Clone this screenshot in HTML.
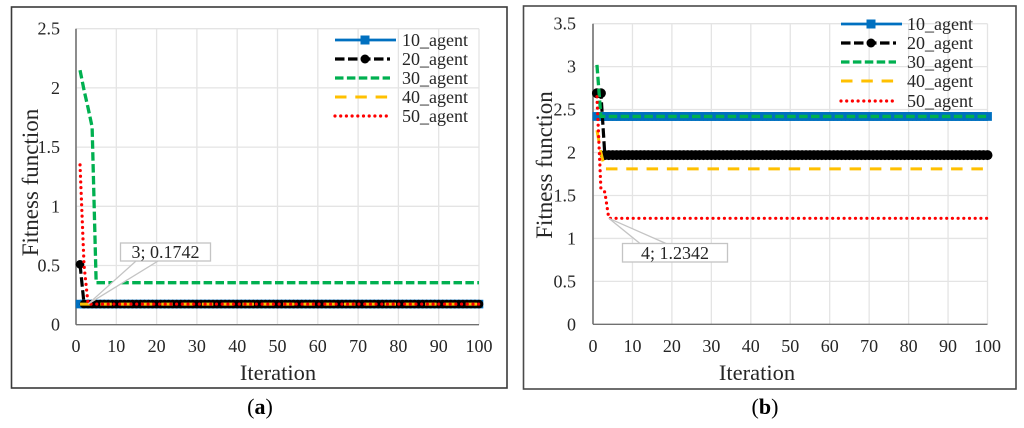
<!DOCTYPE html>
<html lang="en">
<head>
<meta charset="utf-8">
<title>Fitness function vs iteration</title>
<style>
html,body{margin:0;padding:0;background:#fff;width:1024px;height:428px;overflow:hidden}
svg{display:block;position:absolute;left:0;top:0;filter:blur(0.35px)}
text{font-family:"Liberation Serif",serif;fill:#262626}
.tick{font-size:18px}
.xtitle{font-size:22.5px}
.ytitle{font-size:23px}
.leg{font-size:18px}
.cap{font-size:22px;fill:#000}
</style>
</head>
<body>
<svg id="fig" width="1024" height="428" viewBox="0 0 1024 428">
  <g>
    <rect x="11.5" y="7" width="495.5" height="381" fill="#fff" stroke="#3a3a3a" stroke-width="1.6"/>
    <g id="axes-a"></g>
    <g id="marks-a"></g>
    <g id="label-a"></g>
    <text class="xtitle" x="278" y="380" text-anchor="middle">Iteration</text>
    <text class="ytitle" transform="translate(38 182.5) rotate(-90)" text-anchor="middle">Fitness function</text>
    <g id="legend-a">
      <text class="leg" x="402" y="46">10_agent</text>
      <text class="leg" x="402" y="65">20_agent</text>
      <text class="leg" x="402" y="84">30_agent</text>
      <text class="leg" x="402" y="103">40_agent</text>
      <text class="leg" x="402" y="122">50_agent</text>
    </g>
    <text class="cap" x="260" y="414" text-anchor="middle">(<tspan font-weight="bold">a</tspan>)</text>
  </g>
  <g>
    <rect x="523.5" y="6" width="492.5" height="383" fill="#fff" stroke="#4a4a4a" stroke-width="1.6"/>
    <g id="axes-b"></g>
    <g id="marks-b"></g>
    <g id="label-b"></g>
    <text class="xtitle" x="757" y="380" text-anchor="middle">Iteration</text>
    <text class="ytitle" transform="translate(552 165) rotate(-90)" text-anchor="middle">Fitness function</text>
    <g id="legend-b">
      <text class="leg" x="907" y="30">10_agent</text>
      <text class="leg" x="907" y="49">20_agent</text>
      <text class="leg" x="907" y="68">30_agent</text>
      <text class="leg" x="907" y="87">40_agent</text>
      <text class="leg" x="907" y="107">50_agent</text>
    </g>
    <text class="cap" x="765" y="414" text-anchor="middle">(<tspan font-weight="bold">b</tspan>)</text>
  </g>
</svg>
<script>
var xTicks = [0,10,20,30,40,50,60,70,80,90,100];
var yTicksA = [0,0.5,1,1.5,2,2.5];
var yTicksB = [0,0.5,1,1.5,2,2.5,3,3.5];
var seriesNames = ['10_agent','20_agent','30_agent','40_agent','50_agent'];

var a10 = [
0.1742,0.1742,0.1742,0.1742,0.1742,0.1742,0.1742,0.1742,0.1742,0.1742,
0.1742,0.1742,0.1742,0.1742,0.1742,0.1742,0.1742,0.1742,0.1742,0.1742,
0.1742,0.1742,0.1742,0.1742,0.1742,0.1742,0.1742,0.1742,0.1742,0.1742,
0.1742,0.1742,0.1742,0.1742,0.1742,0.1742,0.1742,0.1742,0.1742,0.1742,
0.1742,0.1742,0.1742,0.1742,0.1742,0.1742,0.1742,0.1742,0.1742,0.1742,
0.1742,0.1742,0.1742,0.1742,0.1742,0.1742,0.1742,0.1742,0.1742,0.1742,
0.1742,0.1742,0.1742,0.1742,0.1742,0.1742,0.1742,0.1742,0.1742,0.1742,
0.1742,0.1742,0.1742,0.1742,0.1742,0.1742,0.1742,0.1742,0.1742,0.1742,
0.1742,0.1742,0.1742,0.1742,0.1742,0.1742,0.1742,0.1742,0.1742,0.1742,
0.1742,0.1742,0.1742,0.1742,0.1742,0.1742,0.1742,0.1742,0.1742,0.1742];
var a20 = [
0.51,0.1742,0.1742,0.1742,0.1742,0.1742,0.1742,0.1742,0.1742,0.1742,
0.1742,0.1742,0.1742,0.1742,0.1742,0.1742,0.1742,0.1742,0.1742,0.1742,
0.1742,0.1742,0.1742,0.1742,0.1742,0.1742,0.1742,0.1742,0.1742,0.1742,
0.1742,0.1742,0.1742,0.1742,0.1742,0.1742,0.1742,0.1742,0.1742,0.1742,
0.1742,0.1742,0.1742,0.1742,0.1742,0.1742,0.1742,0.1742,0.1742,0.1742,
0.1742,0.1742,0.1742,0.1742,0.1742,0.1742,0.1742,0.1742,0.1742,0.1742,
0.1742,0.1742,0.1742,0.1742,0.1742,0.1742,0.1742,0.1742,0.1742,0.1742,
0.1742,0.1742,0.1742,0.1742,0.1742,0.1742,0.1742,0.1742,0.1742,0.1742,
0.1742,0.1742,0.1742,0.1742,0.1742,0.1742,0.1742,0.1742,0.1742,0.1742,
0.1742,0.1742,0.1742,0.1742,0.1742,0.1742,0.1742,0.1742,0.1742,0.1742];
var a30 = [
2.15,1.98,1.83,1.67,0.355,0.355,0.355,0.355,0.355,0.355,
0.355,0.355,0.355,0.355,0.355,0.355,0.355,0.355,0.355,0.355,
0.355,0.355,0.355,0.355,0.355,0.355,0.355,0.355,0.355,0.355,
0.355,0.355,0.355,0.355,0.355,0.355,0.355,0.355,0.355,0.355,
0.355,0.355,0.355,0.355,0.355,0.355,0.355,0.355,0.355,0.355,
0.355,0.355,0.355,0.355,0.355,0.355,0.355,0.355,0.355,0.355,
0.355,0.355,0.355,0.355,0.355,0.355,0.355,0.355,0.355,0.355,
0.355,0.355,0.355,0.355,0.355,0.355,0.355,0.355,0.355,0.355,
0.355,0.355,0.355,0.355,0.355,0.355,0.355,0.355,0.355,0.355,
0.355,0.355,0.355,0.355,0.355,0.355,0.355,0.355,0.355,0.355];
var a40 = [
0.1742,0.1742,0.1742,0.1742,0.1742,0.1742,0.1742,0.1742,0.1742,0.1742,
0.1742,0.1742,0.1742,0.1742,0.1742,0.1742,0.1742,0.1742,0.1742,0.1742,
0.1742,0.1742,0.1742,0.1742,0.1742,0.1742,0.1742,0.1742,0.1742,0.1742,
0.1742,0.1742,0.1742,0.1742,0.1742,0.1742,0.1742,0.1742,0.1742,0.1742,
0.1742,0.1742,0.1742,0.1742,0.1742,0.1742,0.1742,0.1742,0.1742,0.1742,
0.1742,0.1742,0.1742,0.1742,0.1742,0.1742,0.1742,0.1742,0.1742,0.1742,
0.1742,0.1742,0.1742,0.1742,0.1742,0.1742,0.1742,0.1742,0.1742,0.1742,
0.1742,0.1742,0.1742,0.1742,0.1742,0.1742,0.1742,0.1742,0.1742,0.1742,
0.1742,0.1742,0.1742,0.1742,0.1742,0.1742,0.1742,0.1742,0.1742,0.1742,
0.1742,0.1742,0.1742,0.1742,0.1742,0.1742,0.1742,0.1742,0.1742,0.1742];
var a50 = [
1.35,0.5,0.1742,0.1742,0.1742,0.1742,0.1742,0.1742,0.1742,0.1742,
0.1742,0.1742,0.1742,0.1742,0.1742,0.1742,0.1742,0.1742,0.1742,0.1742,
0.1742,0.1742,0.1742,0.1742,0.1742,0.1742,0.1742,0.1742,0.1742,0.1742,
0.1742,0.1742,0.1742,0.1742,0.1742,0.1742,0.1742,0.1742,0.1742,0.1742,
0.1742,0.1742,0.1742,0.1742,0.1742,0.1742,0.1742,0.1742,0.1742,0.1742,
0.1742,0.1742,0.1742,0.1742,0.1742,0.1742,0.1742,0.1742,0.1742,0.1742,
0.1742,0.1742,0.1742,0.1742,0.1742,0.1742,0.1742,0.1742,0.1742,0.1742,
0.1742,0.1742,0.1742,0.1742,0.1742,0.1742,0.1742,0.1742,0.1742,0.1742,
0.1742,0.1742,0.1742,0.1742,0.1742,0.1742,0.1742,0.1742,0.1742,0.1742,
0.1742,0.1742,0.1742,0.1742,0.1742,0.1742,0.1742,0.1742,0.1742,0.1742];

var b10 = [
2.42,2.42,2.42,2.42,2.42,2.42,2.42,2.42,2.42,2.42,
2.42,2.42,2.42,2.42,2.42,2.42,2.42,2.42,2.42,2.42,
2.42,2.42,2.42,2.42,2.42,2.42,2.42,2.42,2.42,2.42,
2.42,2.42,2.42,2.42,2.42,2.42,2.42,2.42,2.42,2.42,
2.42,2.42,2.42,2.42,2.42,2.42,2.42,2.42,2.42,2.42,
2.42,2.42,2.42,2.42,2.42,2.42,2.42,2.42,2.42,2.42,
2.42,2.42,2.42,2.42,2.42,2.42,2.42,2.42,2.42,2.42,
2.42,2.42,2.42,2.42,2.42,2.42,2.42,2.42,2.42,2.42,
2.42,2.42,2.42,2.42,2.42,2.42,2.42,2.42,2.42,2.42,
2.42,2.42,2.42,2.42,2.42,2.42,2.42,2.42,2.42,2.42];
var b20 = [
2.69,2.69,1.97,1.97,1.97,1.97,1.97,1.97,1.97,1.97,
1.97,1.97,1.97,1.97,1.97,1.97,1.97,1.97,1.97,1.97,
1.97,1.97,1.97,1.97,1.97,1.97,1.97,1.97,1.97,1.97,
1.97,1.97,1.97,1.97,1.97,1.97,1.97,1.97,1.97,1.97,
1.97,1.97,1.97,1.97,1.97,1.97,1.97,1.97,1.97,1.97,
1.97,1.97,1.97,1.97,1.97,1.97,1.97,1.97,1.97,1.97,
1.97,1.97,1.97,1.97,1.97,1.97,1.97,1.97,1.97,1.97,
1.97,1.97,1.97,1.97,1.97,1.97,1.97,1.97,1.97,1.97,
1.97,1.97,1.97,1.97,1.97,1.97,1.97,1.97,1.97,1.97,
1.97,1.97,1.97,1.97,1.97,1.97,1.97,1.97,1.97,1.97];
var b30 = [
3.02,2.42,2.42,2.42,2.42,2.42,2.42,2.42,2.42,2.42,
2.42,2.42,2.42,2.42,2.42,2.42,2.42,2.42,2.42,2.42,
2.42,2.42,2.42,2.42,2.42,2.42,2.42,2.42,2.42,2.42,
2.42,2.42,2.42,2.42,2.42,2.42,2.42,2.42,2.42,2.42,
2.42,2.42,2.42,2.42,2.42,2.42,2.42,2.42,2.42,2.42,
2.42,2.42,2.42,2.42,2.42,2.42,2.42,2.42,2.42,2.42,
2.42,2.42,2.42,2.42,2.42,2.42,2.42,2.42,2.42,2.42,
2.42,2.42,2.42,2.42,2.42,2.42,2.42,2.42,2.42,2.42,
2.42,2.42,2.42,2.42,2.42,2.42,2.42,2.42,2.42,2.42,
2.42,2.42,2.42,2.42,2.42,2.42,2.42,2.42,2.42,2.42];
var b40 = [
2.26,2.0,1.81,1.81,1.81,1.81,1.81,1.81,1.81,1.81,
1.81,1.81,1.81,1.81,1.81,1.81,1.81,1.81,1.81,1.81,
1.81,1.81,1.81,1.81,1.81,1.81,1.81,1.81,1.81,1.81,
1.81,1.81,1.81,1.81,1.81,1.81,1.81,1.81,1.81,1.81,
1.81,1.81,1.81,1.81,1.81,1.81,1.81,1.81,1.81,1.81,
1.81,1.81,1.81,1.81,1.81,1.81,1.81,1.81,1.81,1.81,
1.81,1.81,1.81,1.81,1.81,1.81,1.81,1.81,1.81,1.81,
1.81,1.81,1.81,1.81,1.81,1.81,1.81,1.81,1.81,1.81,
1.81,1.81,1.81,1.81,1.81,1.81,1.81,1.81,1.81,1.81,
1.81,1.81,1.81,1.81,1.81,1.81,1.81,1.81,1.81,1.81];
var b50 = [
2.65,1.58,1.54,1.2342,1.2342,1.2342,1.2342,1.2342,1.2342,1.2342,
1.2342,1.2342,1.2342,1.2342,1.2342,1.2342,1.2342,1.2342,1.2342,1.2342,
1.2342,1.2342,1.2342,1.2342,1.2342,1.2342,1.2342,1.2342,1.2342,1.2342,
1.2342,1.2342,1.2342,1.2342,1.2342,1.2342,1.2342,1.2342,1.2342,1.2342,
1.2342,1.2342,1.2342,1.2342,1.2342,1.2342,1.2342,1.2342,1.2342,1.2342,
1.2342,1.2342,1.2342,1.2342,1.2342,1.2342,1.2342,1.2342,1.2342,1.2342,
1.2342,1.2342,1.2342,1.2342,1.2342,1.2342,1.2342,1.2342,1.2342,1.2342,
1.2342,1.2342,1.2342,1.2342,1.2342,1.2342,1.2342,1.2342,1.2342,1.2342,
1.2342,1.2342,1.2342,1.2342,1.2342,1.2342,1.2342,1.2342,1.2342,1.2342,
1.2342,1.2342,1.2342,1.2342,1.2342,1.2342,1.2342,1.2342,1.2342,1.2342];

var labelIterA = 3;
var labelValueA = 0.1742;
var labelIterB = 4;
var labelValueB = 1.2342;

var NS = 'http://www.w3.org/2000/svg';
function mk(tag, attrs, parent) {
  var el = document.createElementNS(NS, tag);
  for (var k in attrs) el.setAttribute(k, attrs[k]);
  parent.appendChild(el);
  return el;
}
var styles = [
  {stroke:'#0070c0', width:2.8, dash:'', marker:'square'},
  {stroke:'#000000', width:3.2, dash:'9.5 3.5', marker:'circle'},
  {stroke:'#00b050', width:3.3, dash:'8.5 3.4', marker:''},
  {stroke:'#ffc000', width:3, dash:'11.5 8.8', marker:''},
  {stroke:'#ff0000', width:3.2, dash:'0 5.7', marker:'', round:true}
];

function drawMarker(parent, st, cx, cy, size) {
  var m;
  if (st.marker === 'square') {
    m = mk('rect', {x:cx-size/2, y:cy-size/2, width:size, height:size, fill:st.stroke}, parent);
  } else {
    m = mk('circle', {cx:cx, cy:cy, r:size/2, fill:st.stroke}, parent);
  }
  
  
}

function drawLine(parent, st, d) {
  var attrs = {d:d, fill:'none', stroke:st.stroke, 'stroke-width':st.width, 'stroke-linejoin':'round'};
  if (st.dash) attrs['stroke-dasharray'] = st.dash;
  if (st.round) attrs['stroke-linecap'] = 'round';
  var p = mk('path', attrs, parent);
  
  
}

function drawChart(c) {
  var xs = function (v) { return c.x0 + (v / 100) * (c.x1 - c.x0); };
  var ys = function (v) { return c.y0 - (v / c.yMax) * (c.y0 - c.yTop); };
  var ax = document.getElementById('axes-' + c.id);
  var marks = document.getElementById('marks-' + c.id);
  var i, t, el;

  for (i = 0; i < c.yTicks.length; i++) {
    if (c.yTicks[i] > 0) {
      el = mk('line', {x1:c.x0, x2:c.x1, y1:ys(c.yTicks[i]), y2:ys(c.yTicks[i]), stroke:'#e4e4e4', 'stroke-width':1.3}, ax);
      
      
    }
    t = mk('text', {x:c.yLabelX, y:ys(c.yTicks[i]) + 6, 'text-anchor':'end', 'class':'tick'}, ax);
    t.textContent = String(c.yTicks[i]);
    
    
  }
  for (i = 0; i < xTicks.length; i++) {
    if (xTicks[i] > 0) {
      el = mk('line', {x1:xs(xTicks[i]), x2:xs(xTicks[i]), y1:c.yTop, y2:c.y0, stroke:'#e4e4e4', 'stroke-width':1.3}, ax);
      
      
    }
    t = mk('text', {x:xs(xTicks[i]), y:352, 'text-anchor':'middle', 'class':'tick'}, ax);
    t.textContent = String(xTicks[i]);
    
    
  }
  el = mk('line', {x1:c.x0, x2:c.x0, y1:c.yTop, y2:c.y0, stroke:'#808080', 'stroke-width':1.8}, ax);
  
  
  el = mk('line', {x1:c.x0, x2:c.x1, y1:c.y0, y2:c.y0, stroke:'#707070', 'stroke-width':1.4}, ax);
  
  

  for (var s = 0; s < c.series.length; s++) {
    var vals = c.series[s];
    var st = styles[s];
    var g = mk('g', {}, marks);
    
    
    var d = '';
    for (i = 0; i < vals.length; i++) {
      d += (i ? 'L' : 'M') + xs(i + 1).toFixed(2) + ' ' + ys(vals[i]).toFixed(2);
    }
    drawLine(g, st, d);
    if (st.marker) {
      var sz = st.marker === 'square' ? c.squareSize : c.circleSize;
      for (i = 0; i < vals.length; i++) drawMarker(g, st, xs(i + 1), ys(vals[i]), sz);
    }
  }

  // data label with leader pointing at its data point
  var lab = document.getElementById('label-' + c.id);
  var px = xs(c.labelIter), py = ys(c.labelValue);
  var b = c.labelBox;
  var lead = mk('polyline', {points:px + ',' + py + ' ' + b.lead1 + ',' + b.leadY + ' ' + b.lead2 + ',' + b.leadY + ' ' + px + ',' + py, fill:'#fff', stroke:'#c4c4c4', 'stroke-width':1.3}, lab);
  
  
  var box = mk('rect', {x:b.x, y:b.y, width:b.w, height:b.h, fill:'#fff', stroke:'#c4c4c4', 'stroke-width':1.3}, lab);
  
  
  var tx = mk('text', {x:b.x + b.w / 2, y:b.y + b.h / 2 + 6, 'text-anchor':'middle', 'class':'tick'}, lab);
  tx.textContent = c.labelIter + '; ' + c.labelValue;
  
  

  // legend keys
  var leg = document.getElementById('legend-' + c.id);
  for (s = 0; s < styles.length; s++) {
    var ly = c.legendY[s];
    var right = s === 0 ? c.legX1 + 6 : c.legX1;
    drawLine(leg, styles[s], 'M' + c.legX0 + ' ' + ly + 'L' + right + ' ' + ly);
    if (styles[s].marker) drawMarker(leg, styles[s], c.legX0 + 30, ly, 9);
  }
}

drawChart({
  id:'a', x0:76, x1:479, yTop:28.7, y0:324.7, yMax:2.5, yLabelX:60,
  yTicks:yTicksA, series:[a10,a20,a30,a40,a50],
  squareSize:8.6, circleSize:8.6,
  labelIter:labelIterA, labelValue:labelValueA,
  labelBox:{x:120.5, y:243, w:90, h:18, lead1:136, lead2:158, leadY:261},
  legX0:335, legX1:390, legendY:[40,59,78,97,116]
});
drawChart({
  id:'b', x0:593, x1:987.5, yTop:23.7, y0:324.3, yMax:3.5, yLabelX:576,
  yTicks:yTicksB, series:[b10,b20,b30,b40,b50],
  squareSize:8.8, circleSize:10,
  labelIter:labelIterB, labelValue:labelValueB,
  labelBox:{x:622.5, y:243.5, w:105, h:18.5, lead1:640, lead2:666, leadY:243.5},
  legX0:841, legX1:896, legendY:[24,43,62,81,101]
});
</script>
</body>
</html>
